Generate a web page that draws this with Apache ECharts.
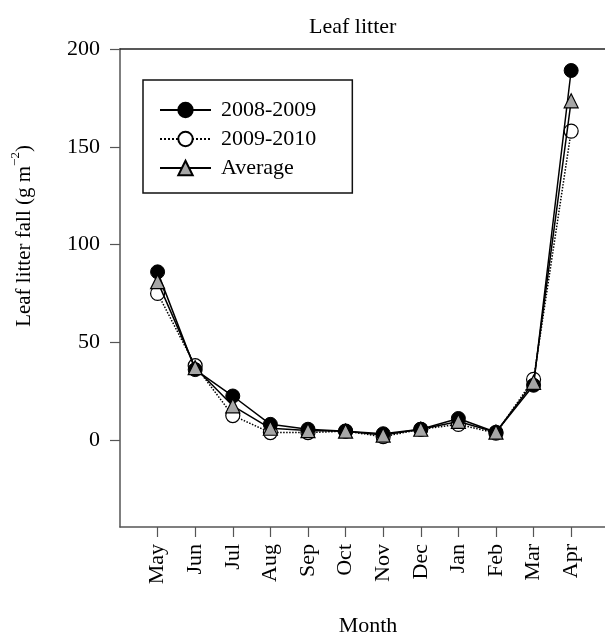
<!DOCTYPE html>
<html>
<head>
<meta charset="utf-8">
<script src="https://cdn.jsdelivr.net/npm/echarts@6/dist/echarts.min.js"></script>
<style>html,body{margin:0;padding:0;background:#fff}#c{width:605px;height:635px}</style>
</head>
<body>
<div id="c"></div>
<script>
const months = ['May','Jun','Jul','Aug','Sep','Oct','Nov','Dec','Jan','Feb','Mar','Apr'];
const s0809 = [86, 36, 22.5, 8, 5.5, 4.5, 3.2, 5.5, 11, 4, 28, 189];
const s0910 = [75, 38, 12.5, 3.8, 3.8, 4.5, 1.7, 5.5, 8, 3.5, 31, 158];
const avg = [81, 37, 17.5, 6, 4.8, 4.5, 2.5, 5.5, 9.5, 4, 29.5, 173.5];
const yTicks = [0, 50, 100, 150, 200];
const seriesNames = ['2008-2009', '2009-2010', 'Average'];

const FONT = 'Liberation Serif';
const chart = echarts.init(document.getElementById('c'));
const toPts = arr => arr.map((v, i) => [i, v]);
const monthIdx = months.map((m, i) => i);

chart.setOption({
  animation: false,
  backgroundColor: '#fff',
  title: {
    text: 'Leaf litter', left: 304, top: 11,
    textStyle: { fontFamily: FONT, fontSize: 22, fontWeight: 'normal', color: '#000' }
  },
  grid: { left: 120, right: 0, top: 49, bottom: 108 },
  legend: {
    orient: 'vertical', left: 143, top: 80,
    padding: [19, 36, 14, 16],
    borderColor: '#111', borderWidth: 1.5,
    itemWidth: 51, itemHeight: 18, itemGap: 7,
    textStyle: { fontFamily: FONT, fontSize: 22, color: '#000', lineHeight: 22, padding: [0, 0, 0, 5] },
    data: seriesNames
  },
  xAxis: [{
    type: 'value', min: -1, max: 11.9, position: 'bottom',
    axisLine: { onZero: false, lineStyle: { color: '#555', width: 1.5 } },
    axisTick: { customValues: monthIdx, length: 10, lineStyle: { color: '#555', width: 1.2 } },
    axisLabel: {
      customValues: monthIdx, rotate: 90, margin: 17,
      formatter: v => months[v],
      fontFamily: FONT, fontSize: 22, color: '#000'
    },
    splitLine: { show: false }
  }, {
    type: 'value', min: -1, max: 11.9, position: 'top',
    axisLine: { onZero: false, lineStyle: { color: '#222', width: 1.5 } },
    axisTick: { show: false }, axisLabel: { show: false }, splitLine: { show: false }
  }],
  yAxis: {
    type: 'value', min: -44.5, max: 200,
    axisLine: { show: true, onZero: false, lineStyle: { color: '#555', width: 1.5 } },
    axisTick: { show: true, customValues: yTicks, length: 10, lineStyle: { color: '#555', width: 1.2 } },
    axisLabel: { customValues: yTicks, margin: 20, fontFamily: FONT, fontSize: 22, color: '#000' },
    splitLine: { show: false }
  },
  graphic: [{
    type: 'text', x: 22, y: 236, rotation: Math.PI / 2,
    style: {
      text: '{m|Leaf litter fall (g m}{s|−2}{m|)}',
      align: 'center', verticalAlign: 'middle',
      rich: {
        m: { fontFamily: FONT, fontSize: 21, color: '#000', lineHeight: 26, verticalAlign: 'bottom' },
        s: { fontFamily: FONT, fontSize: 13, color: '#000', lineHeight: 26, verticalAlign: 'top' }
      }
    }
  }, {
    type: 'text', x: 368, y: 626,
    style: { text: 'Month', align: 'center', verticalAlign: 'middle', fontFamily: FONT, fontSize: 22, fill: '#000' }
  }],
  series: [{
    name: seriesNames[0], type: 'line', data: toPts(s0809),
    symbol: 'circle', symbolSize: 14,
    lineStyle: { color: '#000', width: 1.5, type: 'solid' },
    itemStyle: { color: '#000', borderColor: '#000', borderWidth: 1 },
    z: 3
  }, {
    name: seriesNames[1], type: 'line', data: toPts(s0910),
    symbol: 'circle', symbolSize: 14,
    lineStyle: { color: '#000', width: 1.5, type: 'dotted' },
    itemStyle: { color: '#fff', borderColor: '#000', borderWidth: 1.2 },
    z: 2
  }, {
    name: seriesNames[2], type: 'line', data: toPts(avg),
    symbol: 'triangle', symbolSize: 14,
    lineStyle: { color: '#000', width: 1.5, type: 'solid' },
    itemStyle: { color: '#a6a6a6', borderColor: '#000', borderWidth: 1.2 },
    z: 4
  }]
});
</script>
</body>
</html>
